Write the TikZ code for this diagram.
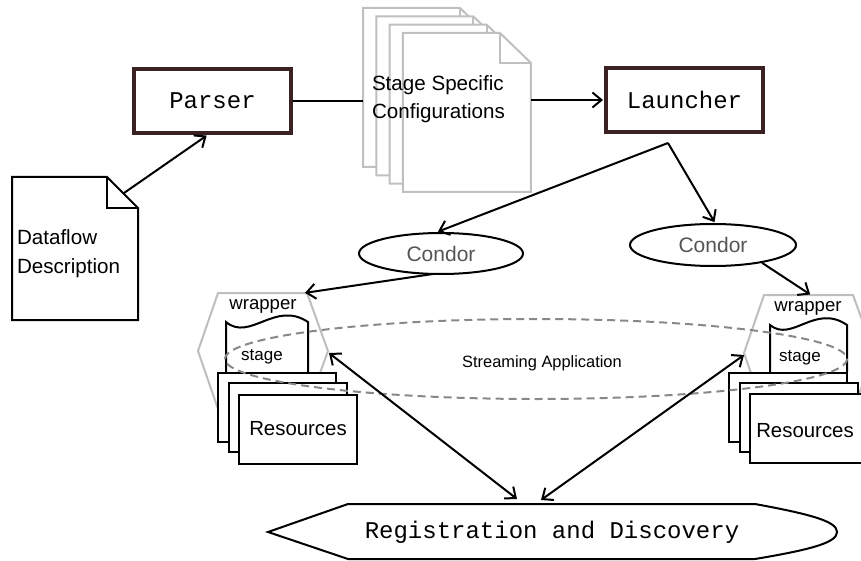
\documentclass[tikz,border=0pt]{standalone}
\usepackage{fontspec}
\setmainfont{Liberation Sans}
\setmonofont{Liberation Mono}
\usetikzlibrary{arrows.meta,shapes.geometric}
\definecolor{boxrim}{RGB}{58,34,34}
\definecolor{docgray}{RGB}{192,192,192}
\definecolor{hexgray}{RGB}{190,190,190}
\definecolor{dashgray}{RGB}{136,136,136}
\definecolor{condortext}{RGB}{85,85,85}
\newcommand{\fsz}[2]{\fontsize{#1}{#2}\selectfont}
\begin{document}
\begin{tikzpicture}
    [x=1pt,y=-1pt,line width=2pt,
     >={Straight Barb[length=9pt,width=15pt]},
     prog/.style={draw=boxrim,line width=4pt,minimum width=157pt,minimum height=64pt,
       font=\ttfamily\fsz{24}{28}},
     sched/.style={ellipse,draw,inner sep=0pt,text=condortext,font=\fsz{21}{25}},
     res/.style={draw,fill=white,minimum width=118pt,minimum height=69pt,inner sep=0pt,
       font=\fsz{20.4}{24}},
     doc/.style={draw=docgray,fill=white},
     wrap/.style={draw=hexgray,fill=white},
     pre/.style={->,shorten >=1pt}]
  \useasboundingbox (0,0) rectangle (861,561);

  % stage specific configurations
  \foreach \i in {0,...,3} {
    \pgfmathsetmacro{\dx}{363+13.3*\i}
    \pgfmathsetmacro{\dy}{8+8.3*\i}
    \draw[doc] (\dx,\dy) -- ++(97,0) -- ++(31,30) -- ++(0,129) -- ++(-128,0) -- cycle;
    \draw[docgray] (\dx+97,\dy) -- ++(0,30) -- ++(31,0);
  }
  \node [anchor=west,align=left,inner sep=0pt,font=\fsz{20.6}{28}] (cfg) at (371,99)
    {Stage Specific\\Configurations};
  \coordinate (cfgIn) at (363,101);
  \coordinate (cfgOut) at (531,100);

  % dataflow description
  \draw[fill=white] (12,177) -- (107,177) -- (138,208) -- (138,320) -- (12,320) -- cycle;
  \draw (107,177) -- (107,208) -- (138,208);
  \node [anchor=west,align=left,inner sep=0pt,font=\fsz{20.6}{29}] (df) at (16,254)
    {Dataflow\\Description};
  \coordinate (dfOut) at (124,193);

  \node [prog] (parser) at (212.5,101) {Parser};
  \node [prog] (launcher) at (684.5,100) {Launcher};
  \draw (parser.east) -- (cfgIn);
  \draw [pre] (cfgOut) -- (launcher.west);
  \draw [pre] (dfOut) -- ([xshift=-5pt]parser.south);

  % condor
  \coordinate (fork) at (668,143);
  \node [sched,minimum width=164pt,minimum height=41pt] (condorL) at (441,253.5) {Condor};
  \node [sched,minimum width=166pt,minimum height=42pt] (condorR) at (713,245) {Condor};
  \draw [pre] (fork) -- ([xshift=-4pt]condorL.north);
  \draw [pre] (fork) -- ([xshift=2pt]condorR.north);

  % left wrapper
  \draw[wrap] (218,293) -- (307,293) -- (328,351) -- (307,409) -- (218,409) -- (198,351) -- cycle;
  \draw[fill=white] (226,372) -- (226,322) .. controls (250,342) and (275,300) .. (308,322)
    -- (308,372);
  \node [font=\fsz{18.6}{22}] (wrapL) at (263,306) {wrapper};
  \node [font=\fsz{17}{20}] (stageL) at (262,357) {stage};
  \node [res] (resL1) at (276.5,407.5) {};
  \node [res] (resL2) at (288,417.5) {};
  \node [res] (resL3) at (298,429) {Resources};
  \coordinate (wrapLin) at (304,293);
  \coordinate (wrapLside) at (329,353);

  % right wrapper
  \draw[wrap] (764,295) -- (853,295) -- (874,353) -- (853,411) -- (764,411) -- (744,353) -- cycle;
  \draw[fill=white] (770,372) -- (770,325) .. controls (792,343) and (815,303) .. (847,325)
    -- (847,372);
  \node [font=\fsz{18.6}{22}] (wrapR) at (808,308) {wrapper};
  \node [font=\fsz{17}{20}] (stageR) at (800,358) {stage};
  \node [res] (resR1) at (788,407.5) {};
  \node [res] (resR2) at (799,417.5) {};
  \node [res] (resR3) at (809,428.5) {};
  \node [font=\fsz{20.4}{24}] (resRtext) at (805,431) {Resources};
  \coordinate (wrapRin) at (811,295);
  \coordinate (wrapRside) at (744,355);

  \draw [pre] ([xshift=-8pt,yshift=1pt]condorL.south) -- (wrapLin);
  \draw [pre] (condorR.-20) -- (wrapRin);

  % streaming application
  \draw [dashgray,dash pattern=on 8pt off 5pt] (536,359) ellipse [x radius=311,y radius=40];
  \node [font=\fsz{16.4}{20}] (stream) at (542,363) {Streaming Application};

  % registration and discovery
  \draw (268,532) -- (348,504) -- (755,504) .. controls (815,515) and (837,522) .. (837,532)
    .. controls (837,542) and (815,549) .. (755,559) -- (348,559) -- cycle;
  \node [font=\ttfamily\fsz{24}{28}] (reg) at (552,532) {Registration and Discovery};
  \coordinate (regA) at (517,499);
  \coordinate (regB) at (541,500);
  \draw [<->] (wrapLside) -- (regA);
  \draw [<->] (wrapRside) -- (regB);
\end{tikzpicture}
\end{document}
